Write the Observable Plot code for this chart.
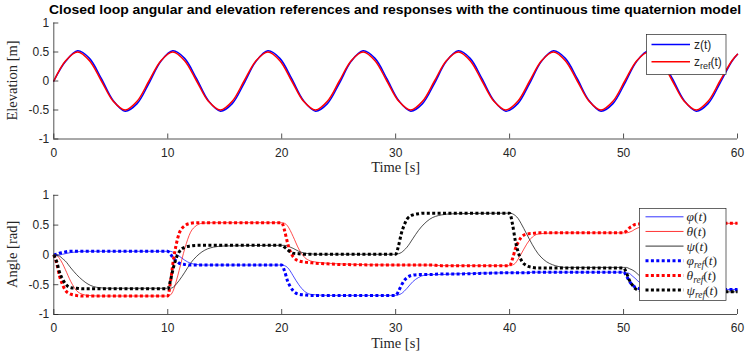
<!DOCTYPE html>
<html><head><meta charset="utf-8">
<script src="https://cdn.jsdelivr.net/npm/d3@7"></script>
<script src="https://cdn.jsdelivr.net/npm/@observablehq/plot@0.6"></script>
<style>
body{margin:0;background:#fff;}
#wrap{position:relative;width:746px;height:353px;overflow:hidden;background:#fff;}
#wrap svg{position:absolute;left:0;overflow:visible;}
</style></head><body><div id="wrap"></div>
<script>
// ---------- data ----------
const titleText = "Closed loop angular and elevation references and responses with the continuous time quaternion model";
const xTicks = [0, 10, 20, 30, 40, 50, 60];
const yTicks = [-1, -0.5, 0, 0.5, 1];
const xLabelText = "Time [s]";
const topYLabel = "Elevation [m]";
const bottomYLabel = "Angle [rad]";

// top panel: elevation
const zTime = [0, 1.04, 2.09, 3.13, 4.18, 5.22, 6.26, 7.31, 8.35, 9.40, 10.44, 11.48, 12.53, 13.57, 14.62, 15.66, 16.70, 17.75, 18.79, 19.84, 20.88, 21.92, 22.97, 24.01, 25.06, 26.10, 27.14, 28.19, 29.23, 30.28, 31.32, 32.36, 33.41, 34.45, 35.50, 36.54, 37.58, 38.63, 39.67, 40.72, 41.76, 42.80, 43.85, 44.89, 45.94, 46.98, 48.02, 49.07, 50.11, 51.16, 52.20, 53.24, 54.29, 55.33, 56.38, 57.42, 58.46, 59.51, 60];
const zRefValues = [0, 0.35, 0.5, 0.35, 0, -0.35, -0.5, -0.35,
  0, 0.35, 0.5, 0.35, 0, -0.35, -0.5, -0.35,
  0, 0.35, 0.5, 0.35, 0, -0.35, -0.5, -0.35,
  0, 0.35, 0.5, 0.35, 0, -0.35, -0.5, -0.35,
  0, 0.35, 0.5, 0.35, 0, -0.35, -0.5, -0.35,
  0, 0.35, 0.5, 0.35, 0, -0.35, -0.5, -0.35,
  0, 0.35, 0.5, 0.35, 0, -0.35, -0.5, -0.35,
  0, 0.35, 0.46];
const zValues = [0, 0.34, 0.52, 0.39, 0.04, -0.34, -0.52, -0.39,
  -0.04, 0.34, 0.52, 0.39, 0.04, -0.34, -0.52, -0.39,
  -0.04, 0.34, 0.52, 0.39, 0.04, -0.34, -0.52, -0.39,
  -0.04, 0.34, 0.52, 0.39, 0.04, -0.34, -0.52, -0.39,
  -0.04, 0.34, 0.52, 0.39, 0.04, -0.34, -0.52, -0.39,
  -0.04, 0.34, 0.52, 0.39, 0.04, -0.34, -0.52, -0.39,
  -0.04, 0.34, 0.52, 0.39, 0.04, -0.34, -0.52, -0.39,
  -0.04, 0.34, 0.46];

// bottom panel: angles
const angTime = [0, 0.25, 0.5, 0.75, 1, 1.5, 2, 2.5, 3, 4, 5,
  10, 10.25, 10.5, 10.75, 11, 11.5, 12, 12.5, 13, 14, 15,
  20, 20.25, 20.5, 20.75, 21, 21.5, 22, 22.5, 23, 24, 25,
  30, 30.25, 30.5, 30.75, 31, 31.5, 32, 32.5, 33, 34, 35,
  40, 40.25, 40.5, 40.75, 41, 41.5, 42, 42.5, 43, 44, 45,
  50, 50.25, 50.5, 50.75, 51, 51.5, 52, 52.5, 53, 54, 55,
  60];
const phiValues = [0, 0, 0, 0.01, 0.02, 0.04, 0.05, 0.06, 0.06, 0.06, 0.06,
  0.06, 0.06, 0.04, 0.01, -0.02, -0.09, -0.14, -0.16, -0.17, -0.17, -0.17,
  -0.17, -0.18, -0.21, -0.27, -0.35, -0.50, -0.61, -0.66, -0.67, -0.68, -0.68,
  -0.68, -0.67, -0.65, -0.61, -0.56, -0.45, -0.38, -0.34, -0.33, -0.33, -0.32,
  -0.30, -0.30, -0.30, -0.30, -0.30, -0.30, -0.29, -0.29, -0.29, -0.29, -0.29,
  -0.29, -0.30, -0.31, -0.35, -0.39, -0.48, -0.54, -0.57, -0.58, -0.58, -0.58,
  -0.58];
const thetaValues = [0, -0.01, -0.06, -0.14, -0.24, -0.45, -0.60, -0.66, -0.68, -0.69, -0.69,
  -0.69, -0.67, -0.59, -0.44, -0.26, 0.11, 0.38, 0.49, 0.53, 0.54, 0.54,
  0.54, 0.53, 0.49, 0.41, 0.31, 0.10, -0.04, -0.10, -0.12, -0.14, -0.15,
  -0.17, -0.17, -0.17, -0.17, -0.17, -0.17, -0.17, -0.17, -0.17, -0.18, -0.18,
  -0.18, -0.17, -0.14, -0.07, 0.01, 0.18, 0.30, 0.35, 0.36, 0.37, 0.37,
  0.37, 0.37, 0.38, 0.40, 0.43, 0.47, 0.51, 0.52, 0.53, 0.53, 0.53,
  0.53];
const psiValues = [0, -0.01, -0.02, -0.06, -0.10, -0.22, -0.33, -0.42, -0.49, -0.55, -0.56,
  -0.56, -0.56, -0.54, -0.49, -0.43, -0.29, -0.14, -0.03, 0.05, 0.13, 0.15,
  0.16, 0.16, 0.15, 0.13, 0.11, 0.06, 0.03, 0.02, 0.01, 0.01, 0.01,
  0.01, 0.02, 0.04, 0.08, 0.13, 0.27, 0.41, 0.52, 0.60, 0.67, 0.69,
  0.70, 0.69, 0.66, 0.61, 0.53, 0.35, 0.17, 0.02, -0.08, -0.18, -0.21,
  -0.21, -0.21, -0.23, -0.25, -0.28, -0.37, -0.45, -0.51, -0.56, -0.60, -0.62,
  -0.62];
const phiRefValues = [0, 0.01, 0.03, 0.04, 0.05, 0.06, 0.06, 0.06, 0.06, 0.06, 0.06,
  0.06, 0.01, -0.06, -0.10, -0.14, -0.16, -0.17, -0.17, -0.17, -0.17, -0.17,
  -0.17, -0.27, -0.43, -0.53, -0.60, -0.66, -0.67, -0.68, -0.68, -0.68, -0.68,
  -0.68, -0.61, -0.51, -0.43, -0.38, -0.34, -0.33, -0.33, -0.33, -0.32, -0.32,
  -0.30, -0.30, -0.30, -0.30, -0.30, -0.30, -0.29, -0.29, -0.29, -0.29, -0.29,
  -0.29, -0.35, -0.44, -0.50, -0.54, -0.57, -0.58, -0.58, -0.58, -0.58, -0.58,
  -0.58];
const thetaRefValues = [0, -0.14, -0.35, -0.49, -0.59, -0.66, -0.68, -0.69, -0.69, -0.69, -0.69,
  -0.69, -0.44, -0.08, 0.18, 0.36, 0.49, 0.53, 0.54, 0.54, 0.54, 0.54,
  0.54, 0.41, 0.21, 0.06, -0.03, -0.10, -0.12, -0.13, -0.14, -0.15, -0.16,
  -0.17, -0.17, -0.17, -0.17, -0.17, -0.17, -0.17, -0.17, -0.17, -0.18, -0.18,
  -0.18, -0.07, 0.10, 0.21, 0.29, 0.35, 0.36, 0.37, 0.37, 0.37, 0.37,
  0.37, 0.40, 0.45, 0.48, 0.51, 0.52, 0.53, 0.53, 0.53, 0.53, 0.53,
  0.53];
const psiRefValues = [0, -0.11, -0.29, -0.40, -0.48, -0.55, -0.56, -0.57, -0.57, -0.57, -0.57,
  -0.57, -0.42, -0.21, -0.05, 0.05, 0.13, 0.15, 0.16, 0.16, 0.16, 0.16,
  0.16, 0.13, 0.09, 0.05, 0.03, 0.02, 0.01, 0.01, 0.01, 0.01, 0.01,
  0.01, 0.15, 0.36, 0.50, 0.60, 0.67, 0.69, 0.70, 0.70, 0.70, 0.70,
  0.70, 0.52, 0.24, 0.05, -0.08, -0.18, -0.21, -0.22, -0.22, -0.22, -0.22,
  -0.22, -0.30, -0.42, -0.50, -0.56, -0.60, -0.62, -0.62, -0.62, -0.62, -0.62,
  -0.62];

const topSeries = [
  {sym: "z", sub: null, values: zValues, color: "#0000ff"},
  {sym: "z", sub: "ref", values: zRefValues, color: "#ff0000"}
];
const angSeries = [
  {sym: "φ", sub: null, values: phiValues, color: "#0000ff", dotted: false},
  {sym: "θ", sub: null, values: thetaValues, color: "#ff0000", dotted: false},
  {sym: "ψ", sub: null, values: psiValues, color: "#000000", dotted: false},
  {sym: "φ", sub: "ref", values: phiRefValues, color: "#0000ff", dotted: true},
  {sym: "θ", sub: "ref", values: thetaRefValues, color: "#ff0000", dotted: true},
  {sym: "ψ", sub: "ref", values: psiRefValues, color: "#000000", dotted: true}
];

// ---------- drawing ----------
(function () {
const AX = "#262626";
const SANS = "'Liberation Sans', Arial, Helvetica, sans-serif";
const SERIF = "'Liberation Serif', 'Times New Roman', serif";
const DOT = "3,2.4";
const wrap = document.getElementById("wrap");

function frameMarks(xLabel) {
  return [
    Plot.ruleX([0], {stroke: AX, strokeWidth: 0.8}),
    Plot.ruleY([-1], {stroke: AX, strokeWidth: 0.8}),
    Plot.axisX({ticks: xTicks, tickSize: -5, tickPadding: 14, tickFormat: d => String(d),
      fontSize: 12, fontFamily: SANS, color: AX, stroke: AX, strokeWidth: 0.8, label: null}),
    Plot.axisY({ticks: yTicks, tickSize: -5, tickPadding: 9.5, tickFormat: d => String(d),
      fontSize: 12, fontFamily: SANS, color: AX, stroke: AX, strokeWidth: 0.8, label: null}),
    Plot.text([xLabel], {frameAnchor: "bottom", dy: 28.5, lineAnchor: "middle",
      fontFamily: SERIF, fontSize: 14.5, fill: AX})
  ];
}

function rows(times, values) { return times.map((t, i) => ({t, v: values[i]})); }

const topPlot = Plot.plot({
  width: 746, height: 176,
  marginTop: 22.5, marginBottom: 37.5, marginLeft: 53.3, marginRight: 9,
  x: {domain: [0, 60]}, y: {domain: [-1, 1]},
  style: {background: "transparent", overflow: "visible"},
  marks: [
    ...topSeries.map(s => Plot.line(rows(zTime, s.values), {x: "t", y: "v", stroke: s.color,
      strokeWidth: 1.5, curve: "catmull-rom"})),
    ...frameMarks(xLabelText)
  ]
});
topPlot.style.top = "0px";
wrap.appendChild(topPlot);

const bottomPlot = Plot.plot({
  width: 746, height: 177,
  marginTop: 18.8, marginBottom: 39, marginLeft: 53.3, marginRight: 9,
  x: {domain: [0, 60]}, y: {domain: [-1, 1]},
  style: {background: "transparent", overflow: "visible"},
  marks: [
    ...angSeries.map(s => Plot.line(rows(angTime, s.values), {x: "t", y: "v", stroke: s.color,
      strokeWidth: s.dotted ? 3 : 0.7, strokeDasharray: s.dotted ? DOT : null,
      strokeLinecap: "butt", strokeLinejoin: "miter",
      curve: "monotone-x"})),
    ...frameMarks(xLabelText)
  ]
});
bottomPlot.style.top = "176px";
wrap.appendChild(bottomPlot);

// ---------- title, y labels and legends (overlay) ----------
const ov = d3.select(wrap).append("svg")
  .attr("width", 746).attr("height", 353).style("top", "0px");

ov.append("text").attr("x", 395).attr("y", 13.5).attr("text-anchor", "middle")
  .attr("font-family", SANS).attr("font-weight", "bold").attr("font-size", 13)
  .attr("textLength", 692).attr("lengthAdjust", "spacingAndGlyphs")
  .attr("fill", "#000").text(titleText);

[[topYLabel, 80.5], [bottomYLabel, 254.4]].forEach(([txt, cy]) => {
  ov.append("text").attr("transform", `translate(17,${cy}) rotate(-90)`)
    .attr("text-anchor", "middle").attr("font-family", SERIF).attr("font-size", 14.5)
    .attr("fill", AX).text(txt);
});

// top legend
{
  const g = ov.append("g");
  g.append("rect").attr("x", 646.5).attr("y", 34.5).attr("width", 79.5).attr("height", 40)
    .attr("fill", "#fff").attr("stroke", AX).attr("stroke-width", 0.7);
  topSeries.forEach((s, i) => {
    const y = 44.5 + i * 17.3;
    g.append("line").attr("x1", 651.5).attr("x2", 690).attr("y1", y).attr("y2", y)
      .attr("stroke", s.color).attr("stroke-width", 1.5);
    const t = g.append("text").attr("x", 694).attr("y", y + 4).attr("font-family", SANS)
      .attr("font-size", 12).attr("fill", AX);
    t.append("tspan").text(s.sym);
    if (s.sub) t.append("tspan").attr("dy", 3).attr("font-size", 9).text(s.sub);
    t.append("tspan").attr("dy", s.sub ? -3 : 0).text("(t)");
  });
}

// bottom legend
{
  const g = ov.append("g");
  g.append("rect").attr("x", 639.5).attr("y", 208.5).attr("width", 86.5).attr("height", 92)
    .attr("fill", "#fff").attr("stroke", AX).attr("stroke-width", 0.7);
  angSeries.forEach((s, i) => {
    const y = 216.8 + i * 14.65;
    g.append("line").attr("x1", 645.5).attr("x2", 683.5).attr("y1", y).attr("y2", y)
      .attr("stroke", s.color).attr("stroke-width", s.dotted ? 3 : 0.8)
      .attr("stroke-dasharray", s.dotted ? DOT : null);
    const t = g.append("text").attr("x", 686.5).attr("y", y + 4.5).attr("font-family", SERIF)
      .attr("font-size", 13.5).attr("fill", AX);
    t.append("tspan").attr("font-style", "italic").text(s.sym);
    if (s.sub) t.append("tspan").attr("dy", 3).attr("font-size", 9.5).attr("font-style", "italic").text(s.sub);
    t.append("tspan").attr("dy", s.sub ? -3 : 0).text("(");
    t.append("tspan").attr("font-style", "italic").text("t");
    t.append("tspan").text(")");
  });
}
})();
</script></body></html>
